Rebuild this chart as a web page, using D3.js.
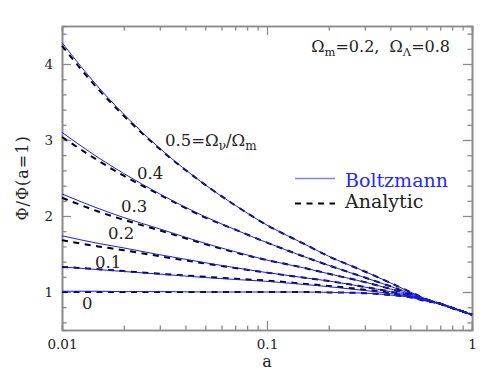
<!DOCTYPE html>
<html>
<head>
    <title>Phi growth</title>
    <script src="https://cdnjs.cloudflare.com/ajax/libs/d3/7.8.5/d3.min.js"></script>
    <style>
        body { margin: 0; background: #fff; }
        text { font-family: "DejaVu Serif", serif; fill: #222; }
        .axis path, .axis line { stroke: #8a8a8a; }
        .axis path { stroke-width: 1.6; }
        .axis line { stroke-width: 1.3; }
        .axis text { font-size: 13.5px; font-family: "DejaVu Serif", serif; fill: #222; }
    </style>
</head>
<body>
<svg width="498" height="380"></svg>
<script>
    // scale factor a
    var aGrid = [0.01, 0.015, 0.02, 0.03, 0.05, 0.07, 0.1, 0.15, 0.2, 0.3, 0.4, 0.5, 0.6, 0.7, 0.8, 0.9, 1.0];

    // Omega_nu / Omega_m of each curve
    var fractions = ["0.5", "0.4", "0.3", "0.2", "0.1", "0"];

    // Boltzmann code (blue solid)
    var boltz05 = [4.28, 3.70, 3.34, 2.89, 2.41, 2.14, 1.88, 1.64, 1.47, 1.27, 1.12, 1.00, 0.905, 0.845, 0.79, 0.745, 0.70];
    var boltz04 = [3.10, 2.77, 2.56, 2.29, 1.99, 1.82, 1.65, 1.47, 1.35, 1.19, 1.075, 0.98, 0.90, 0.845, 0.79, 0.745, 0.70];
    var boltz03 = [2.29, 2.10, 1.98, 1.83, 1.64, 1.53, 1.42, 1.32, 1.24, 1.13, 1.04, 0.965, 0.895, 0.845, 0.79, 0.745, 0.70];
    var boltz02 = [1.74, 1.64, 1.58, 1.49, 1.385, 1.32, 1.255, 1.19, 1.145, 1.065, 1.005, 0.95, 0.89, 0.845, 0.79, 0.745, 0.70];
    var boltz01 = [1.33, 1.295, 1.27, 1.235, 1.19, 1.165, 1.14, 1.10, 1.07, 1.02, 0.98, 0.94, 0.885, 0.845, 0.79, 0.745, 0.70];
    var boltz0  = [1.01, 1.01, 1.005, 1.005, 1.0, 1.0, 1.0, 1.0, 0.995, 0.985, 0.96, 0.93, 0.88, 0.845, 0.79, 0.745, 0.70];

    // analytic approximation (black dashed)
    var anal05 = [4.24, 3.67, 3.32, 2.88, 2.41, 2.14, 1.88, 1.64, 1.47, 1.27, 1.12, 1.00, 0.905, 0.845, 0.79, 0.745, 0.70];
    var anal04 = [3.04, 2.73, 2.53, 2.28, 1.98, 1.82, 1.65, 1.47, 1.35, 1.19, 1.075, 0.98, 0.90, 0.845, 0.79, 0.745, 0.70];
    var anal03 = [2.24, 2.06, 1.95, 1.81, 1.63, 1.52, 1.42, 1.32, 1.24, 1.13, 1.04, 0.965, 0.895, 0.845, 0.79, 0.745, 0.70];
    var anal02 = [1.68, 1.60, 1.55, 1.47, 1.375, 1.315, 1.255, 1.19, 1.145, 1.065, 1.005, 0.95, 0.89, 0.845, 0.79, 0.745, 0.70];
    var anal01 = [1.33, 1.30, 1.275, 1.24, 1.20, 1.175, 1.15, 1.11, 1.08, 1.03, 0.985, 0.94, 0.885, 0.845, 0.79, 0.745, 0.70];
    var anal0  = [1.00, 1.00, 1.00, 1.00, 1.00, 1.00, 1.00, 1.00, 0.995, 0.985, 0.96, 0.93, 0.88, 0.845, 0.79, 0.745, 0.70];

    var xMajor = [0.01, 0.1, 1];
    var yMajor = [1, 2, 3, 4];

    var boltzSeries = [boltz05, boltz04, boltz03, boltz02, boltz01, boltz0];
    var analSeries = [anal05, anal04, anal03, anal02, anal01, anal0];

    var svg = d3.select("svg");
    var pLeft = 62, pRight = 472, pTop = 26, pBottom = 330;

    var x = d3.scaleLog().domain([0.01, 1]).range([pLeft, pRight]);
    var y = d3.scaleLinear().domain([0.5, 4.5]).range([pBottom, pTop]);

    var xMinor = x.ticks().filter(d => xMajor.indexOf(d) < 0);
    var yMinor = d3.range(0.6, 4.5, 0.2).filter(d => Math.abs(d - Math.round(d)) > 0.01);

    // axes, ticks pointing inward on all four sides
    function addAxis(axis, tx, ty) {
        return svg.append("g").attr("class", "axis")
            .attr("transform", "translate(" + tx + "," + ty + ")")
            .call(axis);
    }
    addAxis(d3.axisBottom(x).tickValues(xMinor).tickSize(-4.5).tickFormat(""), 0, pBottom);
    addAxis(d3.axisBottom(x).tickValues(xMajor).tickSizeInner(-9).tickSizeOuter(0).tickPadding(9)
        .tickFormat(d => String(d)), 0, pBottom);
    addAxis(d3.axisTop(x).tickValues(xMinor).tickSize(-4.5).tickFormat(""), 0, pTop);
    addAxis(d3.axisTop(x).tickValues(xMajor).tickSizeInner(-9).tickSizeOuter(0).tickFormat(""), 0, pTop);
    addAxis(d3.axisLeft(y).tickValues(yMinor).tickSize(-4.5).tickFormat(""), pLeft, 0);
    addAxis(d3.axisLeft(y).tickValues(yMajor).tickSizeInner(-9).tickSizeOuter(0).tickPadding(9)
        .tickFormat(d3.format("d")), pLeft, 0);
    addAxis(d3.axisRight(y).tickValues(yMinor).tickSize(-4.5).tickFormat(""), pRight, 0);
    addAxis(d3.axisRight(y).tickValues(yMajor).tickSizeInner(-9).tickSizeOuter(0).tickFormat(""), pRight, 0);

    // curves
    var line = d3.line()
        .x((d, i) => x(aGrid[i]))
        .y(d => y(d))
        .curve(d3.curveMonotoneX);

    svg.append("g").selectAll("path").data(analSeries).enter().append("path")
        .attr("d", line)
        .attr("fill", "none")
        .attr("stroke", "#000")
        .attr("stroke-width", 2)
        .attr("stroke-dasharray", "6,5.5");

    svg.append("g").selectAll("path").data(boltzSeries).enter().append("path")
        .attr("d", line)
        .attr("fill", "none")
        .attr("stroke", "#1a1aff")
        .attr("stroke-width", 1);

    // axis titles
    svg.append("text")
        .attr("x", (pLeft + pRight) / 2).attr("y", 367)
        .attr("text-anchor", "middle")
        .style("font-size", "16px")
        .text("a");

    svg.append("text")
        .attr("transform", "translate(28," + ((pTop + pBottom) / 2) + ") rotate(-90)")
        .attr("text-anchor", "middle")
        .style("font-size", "16px")
        .style("letter-spacing", "1px")
        .text("Φ/Φ(a=1)");

    // curve labels
    var labelPos = [[165, 146], [137, 179], [121, 211.5], [108, 239], [95, 267.5], [82, 309]];
    var labels = svg.append("g").selectAll("text").data(fractions).enter().append("text")
        .attr("x", (d, i) => labelPos[i][0])
        .attr("y", (d, i) => labelPos[i][1])
        .style("font-size", "16.5px");
    labels.each(function(d, i) {
        var t = d3.select(this);
        if (i === 0) {
            t.append("tspan").text(d + "=Ω");
            t.append("tspan").attr("dy", 4).style("font-size", "12px").text("ν");
            t.append("tspan").attr("dy", -4).text("/Ω");
            t.append("tspan").attr("dy", 4).style("font-size", "12px").text("m");
        } else {
            t.text(d);
        }
    });

    // cosmology note
    var note = svg.append("text")
        .attr("x", 450).attr("y", 51.5)
        .attr("text-anchor", "end")
        .style("font-size", "16px");
    note.append("tspan").text("Ω");
    note.append("tspan").attr("dy", 4.5).style("font-size", "11.5px").text("m");
    note.append("tspan").attr("dy", -4.5).text("=0.2,\u00a0\u00a0Ω");
    note.append("tspan").attr("dy", 4.5).style("font-size", "11.5px").text("Λ");
    note.append("tspan").attr("dy", -4.5).text("=0.8");

    // legend
    var legend = svg.append("g");
    legend.append("line")
        .attr("x1", 295).attr("x2", 335).attr("y1", 178.5).attr("y2", 178.5)
        .attr("stroke", "#7f7fff").attr("stroke-width", 1.3);
    legend.append("text")
        .attr("x", 345).attr("y", 186.5)
        .style("font-size", "19px")
        .style("fill", "#2828ff")
        .text("Boltzmann");
    legend.append("line")
        .attr("x1", 295).attr("x2", 335).attr("y1", 203.5).attr("y2", 203.5)
        .attr("stroke", "#000").attr("stroke-width", 2)
        .attr("stroke-dasharray", "6,5.5");
    legend.append("text")
        .attr("x", 345).attr("y", 207.5)
        .style("font-size", "19px")
        .text("Analytic");
</script>
</body>
</html>
